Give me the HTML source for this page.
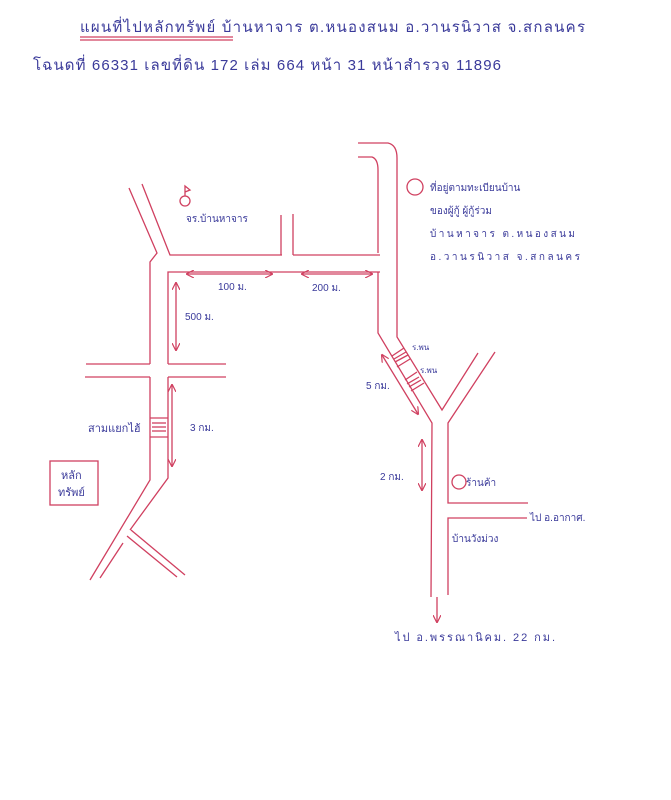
<!DOCTYPE html>
<html><head><meta charset="utf-8"><style>
html,body{margin:0;padding:0;background:#fff;}
svg{display:block}
text{font-family:"Liberation Sans","Noto Sans CJK SC",sans-serif;fill:#3a3a9a;}
</style></head><body>
<svg width="671" height="800" viewBox="0 0 671 800" xmlns="http://www.w3.org/2000/svg">
<defs>
<marker id="a" markerWidth="8" markerHeight="8" refX="7" refY="4" orient="auto-start-reverse" markerUnits="userSpaceOnUse">
<path d="M0,0 L8,4 L0,8" fill="none" stroke="#d04060" stroke-width="1.2"/></marker>
</defs>
<g font-size="15">
<text x="80" y="32" textLength="505" lengthAdjust="spacing">แผนที่ไปหลักทรัพย์ บ้านหาจาร ต.หนองสนม อ.วานรนิวาส จ.สกลนคร</text>
<text x="33" y="70" textLength="468" lengthAdjust="spacing">โฉนดที่ 66331 เลขที่ดิน 172 เล่ม 664 หน้า 31 หน้าสำรวจ 11896</text>
</g>
<g stroke="#d04060" stroke-width="1.3" fill="none">
<line x1="80" y1="37" x2="233" y2="37"/><line x1="80" y1="40" x2="233" y2="40"/>
<polyline points="129,188 157,253 150,262 150,364"/>
<polyline points="142,184 170,255 282,255"/>
<line x1="293" y1="255" x2="380" y2="255"/>
<polyline points="168,364 168,272 380,272"/>
<line x1="281" y1="215" x2="281" y2="255"/><line x1="293" y1="214" x2="293" y2="255"/>
<line x1="86" y1="364" x2="150" y2="364"/><line x1="168" y1="364" x2="226" y2="364"/>
<line x1="85" y1="377" x2="150" y2="377"/><line x1="168" y1="377" x2="226" y2="377"/>
<polyline points="150,377 150,480 90,580"/>
<polyline points="168,377 168,478 130,530"/>
<line x1="127" y1="536" x2="177" y2="577"/>
<line x1="123" y1="543" x2="100" y2="578"/>
<line x1="131" y1="530" x2="185" y2="575"/>
<line x1="150" y1="418" x2="168" y2="418"/><line x1="150" y1="437" x2="168" y2="437"/>
<line x1="152" y1="423" x2="166" y2="423"/><line x1="152" y1="427" x2="166" y2="427"/><line x1="152" y1="431" x2="166" y2="431"/>
<rect x="50" y="461" width="48" height="44"/>
<circle cx="185" cy="201" r="5"/><polyline points="185,196 185,186 190,190 185,192"/>
<path d="M358,143 L388,143 Q397,145 397,158 L397,337 L442,410 L478,353"/>
<path d="M358,157 L372,157 Q378,159 378,170 L378,253"/>
<polyline points="378,272 378,333 432,423 431,597"/>
<polyline points="495,352 448,423 448,503 528,503"/>
<polyline points="527,518 448,518 448,595"/>
<line x1="392" y1="356" x2="404" y2="348"/><line x1="397" y1="367" x2="410" y2="359"/>
<line x1="394" y1="359" x2="406" y2="352"/><line x1="395" y1="362" x2="408" y2="355"/>
<line x1="405" y1="380" x2="417" y2="372"/><line x1="411" y1="391" x2="424" y2="383"/>
<line x1="407" y1="384" x2="419" y2="377"/><line x1="409" y1="387" x2="421" y2="380"/>
<circle cx="415" cy="187" r="8"/>
<circle cx="459" cy="482" r="7"/>
<line x1="187" y1="274" x2="272" y2="274" marker-start="url(#a)" marker-end="url(#a)"/>
<line x1="302" y1="274" x2="372" y2="274" marker-start="url(#a)" marker-end="url(#a)"/>
<line x1="176" y1="283" x2="176" y2="350" marker-start="url(#a)" marker-end="url(#a)"/>
<line x1="172" y1="385" x2="172" y2="466" marker-start="url(#a)" marker-end="url(#a)"/>
<line x1="382" y1="355" x2="418" y2="414" marker-start="url(#a)" marker-end="url(#a)"/>
<line x1="422" y1="440" x2="422" y2="490" marker-start="url(#a)" marker-end="url(#a)"/>
<line x1="437" y1="597" x2="437" y2="622" marker-end="url(#a)"/>
</g>
<g font-size="10">
<text x="186" y="222">จร.บ้านหาจาร</text>
<text x="218" y="290">100 ม.</text>
<text x="312" y="291">200 ม.</text>
<text x="185" y="320">500 ม.</text>
<text x="190" y="431">3 กม.</text>
<text x="88" y="432" font-size="11">สามแยกไฮ้</text>
<text x="61" y="479" font-size="11">หลัก</text>
<text x="58" y="496" font-size="11">ทรัพย์</text>
<text x="412" y="350" font-size="8">ร.พน</text>
<text x="420" y="373" font-size="8">ร.พน</text>
<text x="366" y="389">5 กม.</text>
<text x="380" y="480">2 กม.</text>
<text x="466" y="486">ร้านค้า</text>
<text x="530" y="521">ไป อ.อากาศ.</text>
<text x="452" y="542">บ้านวังม่วง</text>
<text x="395" y="641" font-size="11" textLength="160" lengthAdjust="spacing">ไป อ.พรรณานิคม. 22 กม.</text>
<text x="430" y="191">ที่อยู่ตามทะเบียนบ้าน</text>
<text x="430" y="214">ของผู้กู้ ผู้กู้ร่วม</text>
<text x="430" y="237" textLength="145" lengthAdjust="spacing">บ้านหาจาร ต.หนองสนม</text>
<text x="430" y="260" textLength="150" lengthAdjust="spacing">อ.วานรนิวาส จ.สกลนคร</text>
</g>
</svg>
</body></html>
